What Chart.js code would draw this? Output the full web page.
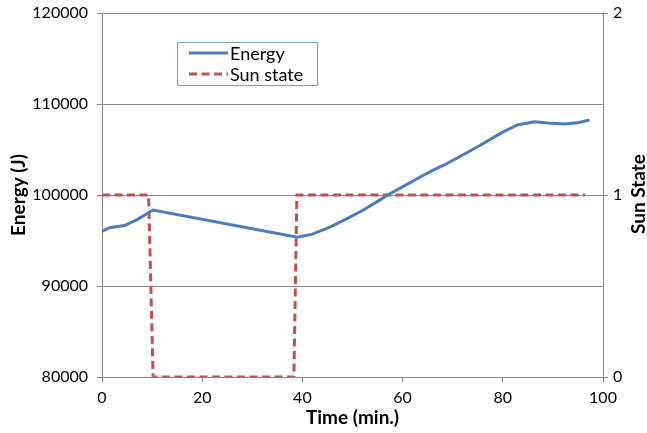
<!DOCTYPE html>
<html>
<head>
<meta charset="utf-8">
<script src="https://cdn.jsdelivr.net/npm/chart.js@4"></script>
<style>
  body { margin: 0; background: #fff; }
  #wrap { width: 647px; height: 433px; }
</style>
</head>
<body>
<div id="wrap"><canvas id="energyChart" width="647" height="433"></canvas></div>
<script>
// values
const energyTime = [0, 1.5, 4.5, 7, 10.2, 39, 42, 45.6, 48.9, 52, 55, 57, 60, 63.6, 66, 68.3, 72, 75.6, 79.6, 82.9, 86.3, 89, 92.3, 95, 97.3];
const energyValues = [96000, 96400, 96650, 97300, 98350, 95350, 95700, 96500, 97400, 98300, 99300, 100000, 100900, 102000, 102700, 103300, 104400, 105500, 106800, 107700, 108050, 107900, 107800, 107950, 108250];
const sunTime = [0, 9.3, 10.2, 38.3, 38.9, 96.4];
const sunValues = [1, 1, 0, 0, 1, 1];
const timeTicks = [0, 20, 40, 60, 80, 100];

const FONT = 'Lato, "Open Sans", sans-serif';
const GRID = '#868686';

function toPoints(xs, ys) {
    return xs.map((x, i) => ({ x: x, y: ys[i] }));
}

// legend box drawn inside the plot, like the original
const insideLegend = {
    id: 'insideLegend',
    afterDraw(chart) {
        const ctx = chart.ctx;
        ctx.save();
        ctx.strokeStyle = '#7B9BC9';
        ctx.lineWidth = 1;
        ctx.strokeRect(177.5, 42.5, 140, 43);
        ctx.font = '18px ' + FONT;
        ctx.textBaseline = 'middle';
        ctx.fillStyle = '#000';
        chart.data.datasets.forEach((ds, i) => {
            const y = 53 + i * 21;
            ctx.beginPath();
            ctx.setLineDash(ds.borderDash || []);
            ctx.strokeStyle = ds.borderColor;
            ctx.lineWidth = ds.borderWidth;
            ctx.moveTo(189, y);
            ctx.lineTo(228, y);
            ctx.stroke();
            ctx.setLineDash([]);
            ctx.fillText(ds.label, 230, y + 1);
        });
        // right axis title reads bottom to top
        ctx.font = 'bold 19px ' + FONT;
        ctx.translate(639, 194);
        ctx.rotate(-Math.PI / 2);
        ctx.textAlign = 'center';
        ctx.fillText('Sun State', 0, 0);
        ctx.restore();
    }
};

const plain = v => String(v);

new Chart(document.getElementById('energyChart').getContext('2d'), {
    type: 'line',
    data: {
        datasets: [{
            label: 'Energy',
            data: toPoints(energyTime, energyValues),
            borderColor: '#4A7EBB',
            borderWidth: 3,
            pointRadius: 0,
            tension: 0,
            yAxisID: 'y'
        }, {
            label: 'Sun state',
            data: toPoints(sunTime, sunValues),
            borderColor: '#C0504D',
            borderWidth: 3,
            borderDash: [8, 4.5],
            pointRadius: 0,
            tension: 0,
            yAxisID: 'y2'
        }]
    },
    options: {
        responsive: false,
        animation: false,
        layout: { padding: { top: 13 } },
        plugins: {
            legend: { display: false },
            tooltip: { enabled: false }
        },
        scales: {
            x: {
                type: 'linear',
                min: 0,
                max: 100,
                afterBuildTicks(scale) {
                    scale.ticks = timeTicks.map(v => ({ value: v }));
                },
                afterFit(scale) { scale.height = 56; },
                grid: { drawOnChartArea: false, color: GRID, tickLength: 5 },
                border: { color: GRID },
                ticks: { color: '#000', padding: 6, callback: plain, font: { family: FONT, size: 16 } },
                title: {
                    display: true,
                    text: 'Time (min.)',
                    color: '#000',
                    padding: { top: 0, bottom: 4 },
                    font: { family: FONT, size: 19, weight: 'bold' }
                }
            },
            y: {
                position: 'left',
                min: 80000,
                max: 120000,
                afterFit(scale) { scale.width = 102; scale.paddingTop = 0; scale.paddingBottom = 0; },
                grid: {
                    color: ctx => ctx.tick && ctx.tick.value === 120000 ? '#5B8AC6' : GRID,
                    tickLength: 5
                },
                border: { color: GRID },
                ticks: { stepSize: 10000, color: '#000', padding: 9, callback: plain, font: { family: FONT, size: 16 } },
                title: {
                    display: true,
                    text: 'Energy (J)',
                    color: '#000',
                    padding: { top: 7, bottom: 0 },
                    font: { family: FONT, size: 19, weight: 'bold' }
                }
            },
            y2: {
                position: 'right',
                min: 0,
                max: 2,
                afterFit(scale) { scale.width = 44; scale.paddingTop = 0; scale.paddingBottom = 0; },
                grid: { drawOnChartArea: false, color: GRID, tickLength: 5 },
                border: { color: GRID },
                ticks: { stepSize: 1, color: '#000', padding: 5, callback: plain, font: { family: FONT, size: 16 } }
            }
        }
    },
    plugins: [insideLegend]
});
</script>
</body>
</html>
